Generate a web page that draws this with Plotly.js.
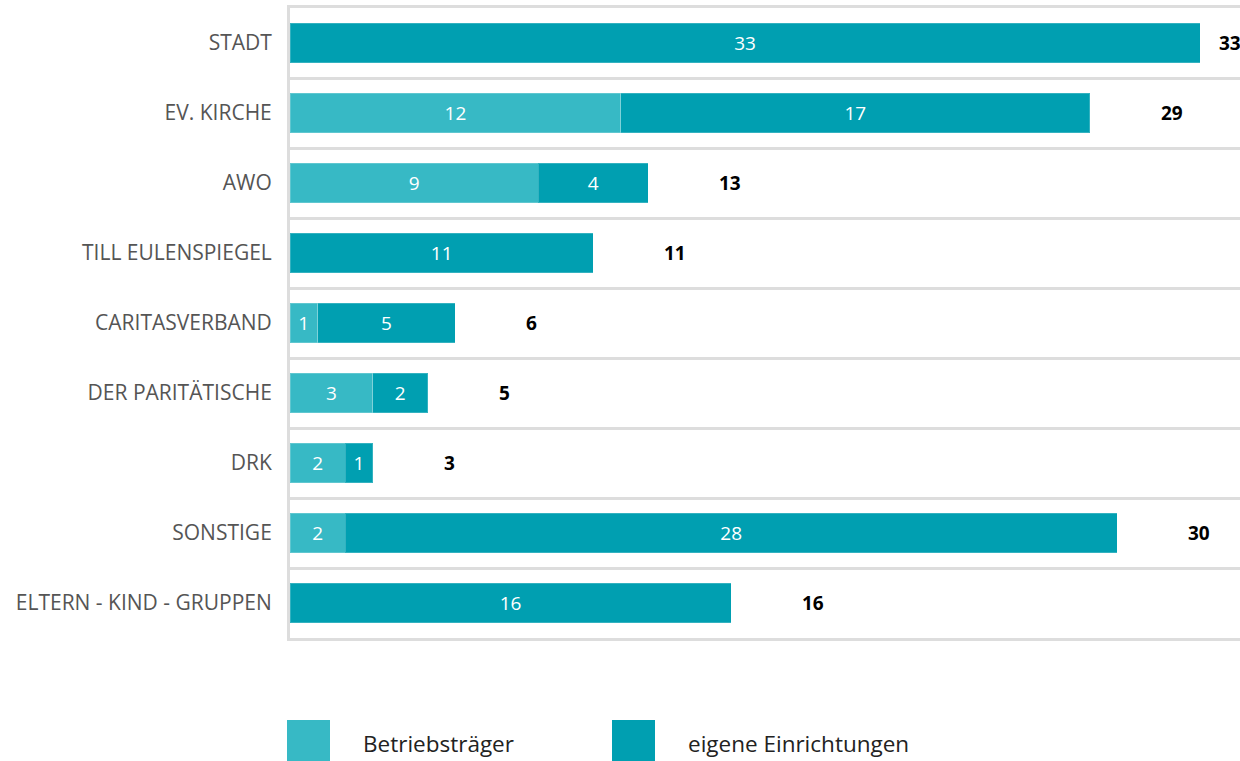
<!DOCTYPE html>
<html>
<head>
<meta charset="utf-8">
<script src="https://cdn.plot.ly/plotly-3.0.1.min.js"></script>
<style>html,body{margin:0;padding:0;background:#fff;}#chart{width:1240px;height:761px;}</style>
</head>
<body>
<div id="chart"></div>
<script>
const categories = ['STADT','EV. KIRCHE','AWO','TILL EULENSPIEGEL','CARITASVERBAND','DER PARITÄTISCHE','DRK','SONSTIGE','ELTERN - KIND - GRUPPEN'];
const betriebstraeger = [0,12,9,0,1,3,2,2,0];
const eigeneEinrichtungen = [33,17,4,11,5,2,1,28,16];
const seriesNames = ['Betriebsträger','eigene Einrichtungen'];
const colors = ['#37b9c5','#009fb1'];
const totals = categories.map((c,i)=>betriebstraeger[i]+eigeneEinrichtungen[i]);
const xMax = 34.45;
const FONT = 'Open Sans, Noto Sans, sans-serif';

function barTrace(vals, name, color){
  return {
    type:'bar', orientation:'h', y:categories, x:vals, name:name,
    marker:{color:color, line:{color:'rgba(255,255,255,0.2)', width:1}},
    text: vals.map(v=> v>0 ? String(v) : ''),
    textposition:'inside', insidetextanchor:'middle', textangle:0,
    constraintext:'none',
    textfont:{color:'#ffffff', size:19, family:FONT},
    hoverinfo:'skip', width:0.57, showlegend:false
  };
}

const data = [
  barTrace(betriebstraeger, seriesNames[0], colors[0]),
  barTrace(eigeneEinrichtungen, seriesNames[1], colors[1])
];

const annotations = totals.map((t,i)=>({
  x: Math.min(t + 2.5, xMax - 0.85), y: categories[i], xref:'x', yref:'y',
  text:'<b>'+t+'</b>', showarrow:false, xanchor:'left', yanchor:'middle',
  font:{size:19, color:'#000000', family:FONT}
}));

// legend (drawn manually)
const legendX = [287, 612];
const shapes = [];
seriesNames.forEach((n,i)=>{
  shapes.push({type:'rect', xref:'paper', yref:'paper', layer:'above',
    x0:(legendX[i]-290)/950, x1:(legendX[i]+43-290)/950,
    y0:(638-762)/630, y1:(638-720)/630,
    fillcolor:colors[i], line:{width:0}});
  annotations.push({xref:'paper', yref:'paper', x:(legendX[i]+74-290)/950, y:(638-743)/630,
    text:n, showarrow:false, xanchor:'left', yanchor:'middle',
    font:{size:22.5, color:'#222222', family:FONT}});
});

const layout = {
  width:1240, height:761,
  margin:{l:290, r:0, t:8, b:123},
  paper_bgcolor:'#ffffff', plot_bgcolor:'#ffffff',
  barmode:'stack', bargap:0.43,
  xaxis:{range:[0,xMax], showgrid:false, zeroline:false, showticklabels:false, ticks:'',
    showline:true, mirror:true, linecolor:'#dddddd', linewidth:3, fixedrange:true},
  yaxis:{type:'category', range:[8.5,-0.5], tickson:'boundaries', showgrid:true, gridcolor:'#dddddd', gridwidth:3,
    showline:true, linecolor:'#dddddd', linewidth:3, ticks:'', ticklabelstandoff:11,
    tickfont:{size:21, color:'#555555', family:FONT}, fixedrange:true},
  annotations:annotations, shapes:shapes,
  font:{family:FONT}
};

Plotly.newPlot('chart', data, layout, {displayModeBar:false, staticPlot:true});
</script>
</body>
</html>
